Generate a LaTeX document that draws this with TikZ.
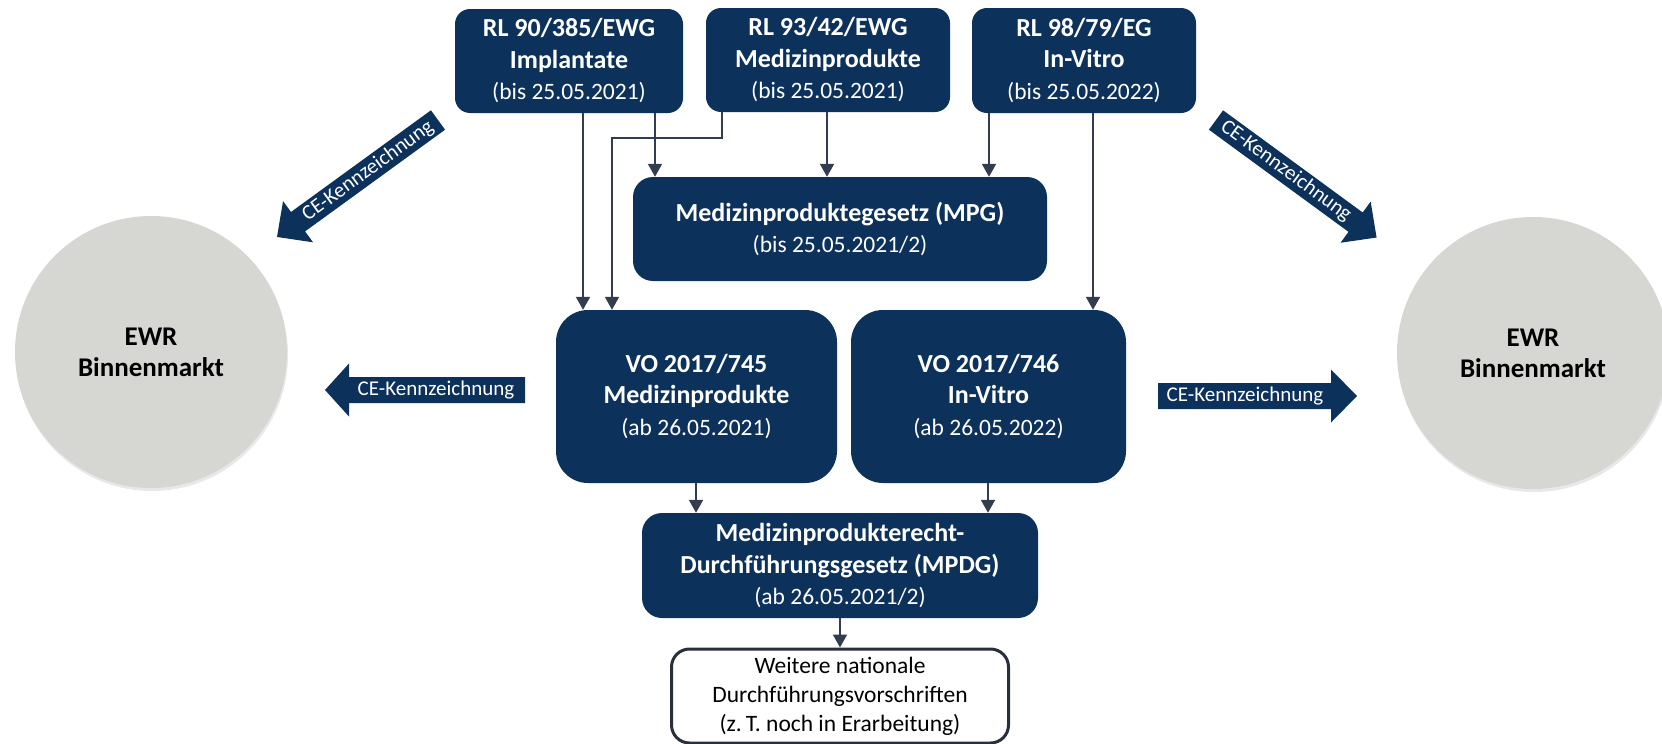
\documentclass[tikz,border=0pt]{standalone}
\usepackage{fontspec}
\setmainfont{Carlito}
\usetikzlibrary{arrows.meta,shadows}
\definecolor{navy}{RGB}{12,49,91}
\definecolor{conncol}{RGB}{50,62,79}
\definecolor{circgray}{RGB}{214,214,211}
\definecolor{borderdark}{RGB}{40,48,60}
\newcommand{\bigfont}{\fontsize{26}{31.5}\selectfont}
\newcommand{\datefont}{\fontsize{23.5}{31.5}\selectfont\mdseries}
\begin{document}
\begin{tikzpicture}[x=1pt,y=-1pt,
  box/.style={fill=navy, text=white, inner sep=0pt, align=center, font=\bigfont\bfseries},
  conn/.style={draw=conncol, line width=2pt, -{Triangle[length=13pt,width=14pt]}},
  cearrow/.style={fill=navy},
  cetext/.style={text=white, inner sep=0pt, font=\fontsize{21}{24}\selectfont},
  ewr/.style={circle, fill=circgray, minimum size=272pt, inner sep=0pt, align=center,
    font=\fontsize{27}{31}\selectfont\bfseries,
    drop shadow={opacity=0.18, shadow xshift=1pt, shadow yshift=-3pt}}
]
\useasboundingbox (0,0) rectangle (1662,744);

% circles
\node[ewr] (ewrL) at (151,352) {EWR\\Binnenmarkt};
\node[ewr] (ewrR) at (1533,353) {EWR\\Binnenmarkt};

% top boxes
\node[box, rounded corners=15pt, minimum width=228pt, minimum height=104pt] (rl90) at (569,61)
  {RL 90/385/EWG\\Implantate\\{\datefont (bis 25.05.2021)}};
\node[box, rounded corners=15pt, minimum width=244pt, minimum height=104pt] (rl93) at (828,60)
  {RL 93/42/EWG\\Medizinprodukte\\{\datefont (bis 25.05.2021)}};
\node[box, rounded corners=15pt, minimum width=224pt, minimum height=105pt] (rl98) at (1084,60.5)
  {RL 98/79/EG\\In-Vitro\\{\datefont (bis 25.05.2022)}};

% MPG
\node[box, rounded corners=20pt, minimum width=414pt, minimum height=104pt] (mpg) at (840,229)
  {Medizinproduktegesetz (MPG)\\{\datefont (bis 25.05.2021/2)}};

% VO boxes
\node[box, rounded corners=32pt, minimum width=281pt, minimum height=173pt] (vo745) at (696.5,396.5)
  {VO 2017/745\\Medizinprodukte\\{\datefont (ab 26.05.2021)}};
\node[box, rounded corners=32pt, minimum width=275pt, minimum height=173pt] (vo746) at (988.5,396.5)
  {VO 2017/746\\In-Vitro\\{\datefont (ab 26.05.2022)}};

% MPDG
\node[box, rounded corners=20pt, minimum width=396pt, minimum height=105pt] (mpdg) at (840,565.5)
  {Medizinprodukterecht-\\Durchführungsgesetz (MPDG)\\{\datefont (ab 26.05.2021/2)}};

% Weitere
\node[draw=borderdark, line width=3pt, fill=white, rounded corners=18pt, inner sep=0pt,
  minimum width=337pt, minimum height=94pt, align=center,
  font=\fontsize{23.5}{29}\selectfont] (weit) at (840,696)
  {Weitere nationale\\Durchführungsvorschriften\\(z.\,T. noch in Erarbeitung)};

% helper x positions
\coordinate (xa) at (583,0);
\coordinate (xb) at (655,0);
\coordinate (xc) at (722,0);
\coordinate (bendA) at (722,138);
\coordinate (bendB) at (612,138);
\coordinate (xe) at (827,0);
\coordinate (xf) at (989,0);
\coordinate (xg) at (1093,0);
\coordinate (xh) at (696,0);
\coordinate (xi) at (988,0);
\coordinate (xj) at (840,0);

% connectors
\draw[conn] (xa |- rl90.south) -- (xa |- vo745.north);
\draw[conn] (xb |- rl90.south) -- (xb |- mpg.north);
\draw[conn] (xc |- rl93.south) -- (bendA) -- (bendB) -- (bendB |- vo745.north);
\draw[conn] (xe |- rl93.south) -- (xe |- mpg.north);
\draw[conn] (xf |- rl98.south) -- (xf |- mpg.north);
\draw[conn] (xg |- rl98.south) -- (xg |- vo746.north);
\draw[conn] (xh |- vo745.south) -- (xh |- mpdg.north);
\draw[conn] (xi |- vo746.south) -- (xi |- mpdg.north);
\draw[conn] (xj |- mpdg.south) -- (weit.north);

% CE arrows: left diagonal
\begin{scope}[shift={(438,120)}, rotate=216]
  \fill[cearrow] (0pt,-12pt) -- (173pt,-12pt) -- (173pt,-25.5pt) -- (199pt,0pt)
    -- (173pt,25.5pt) -- (173pt,12pt) -- (0pt,12pt) -- cycle;
\end{scope}
\node[cetext, rotate=36] (ceLD) at (368,171) {CE-Kennzeichnung};

% right diagonal
\begin{scope}[shift={(1216,120)}, rotate=-36.2]
  \fill[cearrow] (0pt,-12pt) -- (173pt,-12pt) -- (173pt,-25.5pt) -- (199pt,0pt)
    -- (173pt,25.5pt) -- (173pt,12pt) -- (0pt,12pt) -- cycle;
\end{scope}
\node[cetext, rotate=-36.2] (ceRD) at (1286,171) {CE-Kennzeichnung};

% left horizontal
\begin{scope}[shift={(525,390)}, rotate=180]
  \fill[cearrow] (0pt,-13pt) -- (176pt,-13pt) -- (176pt,-26.5pt) -- (200pt,0pt)
    -- (176pt,26.5pt) -- (176pt,13pt) -- (0pt,13pt) -- cycle;
\end{scope}
\node[cetext] (ceLH) at (436,390) {CE-Kennzeichnung};

% right horizontal
\begin{scope}[shift={(1158,396)}]
  \fill[cearrow] (0pt,-13pt) -- (173pt,-13pt) -- (173pt,-26.5pt) -- (199pt,0pt)
    -- (173pt,26.5pt) -- (173pt,13pt) -- (0pt,13pt) -- cycle;
\end{scope}
\node[cetext] (ceRH) at (1245,396) {CE-Kennzeichnung};
\end{tikzpicture}
\end{document}
